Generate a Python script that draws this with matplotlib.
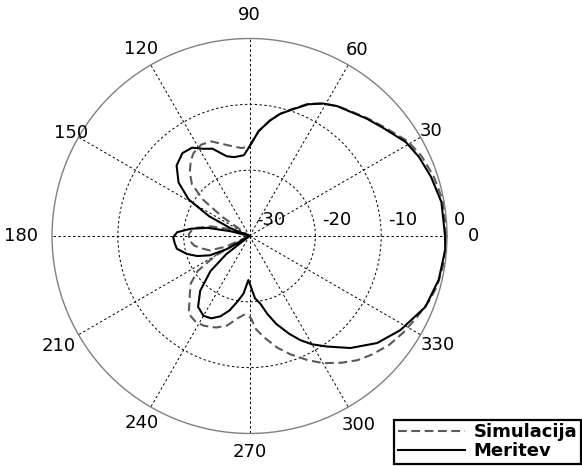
import matplotlib.pyplot as plt
import numpy as np
from matplotlib.transforms import offset_copy

# normalised radiation pattern, gain in dB against azimuth in degrees
sim_deg = [0, 10, 18, 25, 31, 39, 45, 51, 56, 61, 66, 72, 76, 80, 85, 90, 95,
           100, 106, 112, 118, 124, 128, 133, 138, 142, 145, 148, 152, 160,
           166, 172, 178, 184, 190, 196, 200, 204, 207, 210, 214, 219, 224,
           232, 238, 243, 250, 256, 262, 266, 269, 271, 274, 278, 284, 289,
           295, 300, 306, 311, 316, 322, 328, 334, 340, 345, 352, 360]
sim_db = [-0.1, -0.1, -0.6, -1.2, -2.0, -3.7, -4.7, -5.6, -6.2, -7.0, -8.0,
          -9.8, -10.9, -12.2, -14.0, -16.3, -16.6, -16.2, -15.5, -14.5, -14.3,
          -14.8, -15.5, -16.7, -18.2, -21.0, -25.0, -30.0, -30.0, -27.0,
          -24.0, -21.4, -20.8, -20.8, -21.5, -22.8, -23.6, -26.0, -30.0,
          -24.0, -20.5, -18.5, -17.4, -15.0, -14.6, -14.7, -15.2, -16.0,
          -17.4, -18.0, -17.8, -17.5, -15.8, -14.5, -12.5, -11.0, -9.2, -7.7,
          -6.2, -5.0, -4.1, -3.1, -2.4, -1.75, -1.0, -0.5, -0.2, -0.1]

meas_deg = [0, 10, 18, 25, 31, 39, 45, 51, 56, 61, 66, 72, 76, 80, 85, 89, 94,
            101, 106, 113, 118, 123, 129, 136, 143, 149, 154, 158, 162, 166,
            169, 173, 177, 181, 186, 190, 196, 201, 206, 210, 214, 218, 222,
            228, 234, 240, 245, 250, 255, 260, 264, 268.5, 271, 275, 279, 283,
            287, 292, 296, 300, 305, 312, 320, 328, 338, 347, 356, 360]
meas_db = [-0.3, -0.4, -1.0, -1.6, -2.3, -3.9, -4.8, -5.7, -6.2, -7.0, -8.1,
           -9.9, -10.9, -12.2, -14.0, -16.0, -17.7, -17.8, -17.4, -15.6,
           -15.0, -14.0, -13.8, -14.6, -16.5, -19.2, -23.2, -27.0, -30.0,
           -27.0, -23.5, -21.0, -19.0, -18.4, -18.6, -18.8, -20.1, -21.5,
           -23.3, -26.0, -30.0, -25.5, -22.0, -18.8, -16.7, -16.0, -16.2,
           -17.0, -18.3, -20.0, -21.2, -23.3, -22.5, -20.5, -19.6, -17.8,
           -16.0, -14.0, -12.4, -11.0, -9.5, -7.1, -4.7, -3.0, -1.2, -0.5,
           -0.2, -0.3]

ring_db = [-20, -10]
ring_label_db = [-30, -20, -10, 0]
ring_labels = ["-30", "-20", "-10", "0"]
angle_ticks = list(range(0, 360, 30))
# distance of each angle label from the centre, as a fraction of the rim
angle_label_r = [1.135, 1.06, 1.09, 1.12, 1.095, 1.045,
                 1.155, 1.115, 1.095, 1.095, 1.105, 1.10]

R_MIN, R_MAX = -30, 0

fig = plt.figure(figsize=(5.82, 4.66), dpi=100)
ax = fig.add_axes([0.0894, 0.0698, 0.6787, 0.8476], projection="polar")

ax.set_ylim(R_MIN, R_MAX)
ax.set_xticks(np.deg2rad(angle_ticks))
ax.set_xticklabels([])
ax.set_yticks(ring_db)
ax.set_yticklabels([])
ax.grid(True, color="black", linestyle=(0, (2.5, 2.5)), linewidth=0.7)
ax.spines["polar"].set_color("#808080")
ax.spines["polar"].set_linewidth(1.0)

ax.plot(np.deg2rad(sim_deg), np.clip(sim_db, R_MIN, R_MAX), color="#5a5a5a",
        linestyle=(0, (4.2, 2.2)), linewidth=1.5, label="Simulacija")
ax.plot(np.deg2rad(meas_deg), np.clip(meas_db, R_MIN, R_MAX), color="black",
        linewidth=1.5, label="Meritev")

# angle labels just outside the rim
for a, f in zip(angle_ticks, angle_label_r):
    ax.text(np.deg2rad(a), R_MIN + f * (R_MAX - R_MIN), str(a),
            ha="center", va="center", fontsize=13, clip_on=False)

# ring labels along the 0 degree spoke
lbl_tr = offset_copy(ax.transData, fig=fig, x=7, y=16, units="dots")
for r, s in zip(ring_label_db, ring_labels):
    ax.text(0, r, s, ha="left", va="center", fontsize=13, transform=lbl_tr,
            clip_on=False)

leg = ax.legend(loc="lower right", bbox_to_anchor=(581 / 582, 2 / 466),
                bbox_transform=fig.transFigure, fancybox=False,
                prop={"weight": "bold", "size": 13}, handlelength=3.7,
                handletextpad=0.5, labelspacing=0.05, borderpad=0.2,
                borderaxespad=0)
leg.get_frame().set_edgecolor("black")
leg.get_frame().set_linewidth(1.6)
leg.get_frame().set_alpha(1)

fig.savefig("out.png", dpi=100)
